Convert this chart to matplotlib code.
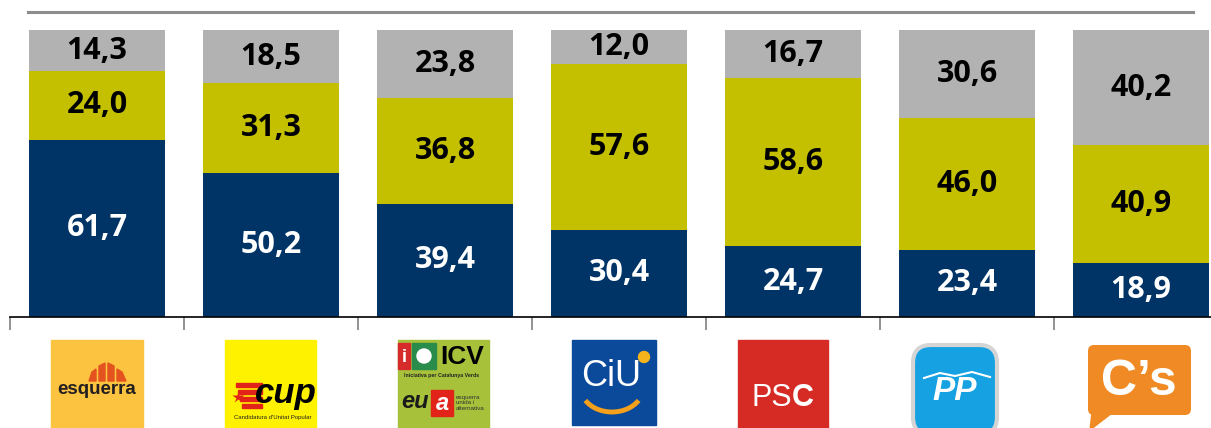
import numpy as np
import matplotlib
matplotlib.use("Agg")
import matplotlib.pyplot as plt
from matplotlib.patches import Rectangle, FancyBboxPatch, Polygon, Circle, Arc
from matplotlib.lines import Line2D

# data (percent of voters per party)
parties = ["ERC", "CUP", "ICV-EUiA", "CiU", "PSC", "PP", "C's"]
bottom_vals = [61.7, 50.2, 39.4, 30.4, 24.7, 23.4, 18.9]
middle_vals = [24.0, 31.3, 36.8, 57.6, 58.6, 46.0, 40.9]
top_vals = [14.3, 18.5, 23.8, 12.0, 16.7, 30.6, 40.2]

NAVY = "#003366"
OLIVE = "#c4c000"
GREY = "#b2b2b2"

W, H = 1211, 428
fig = plt.figure(figsize=(W / 100, H / 100), dpi=100)

# main axes: left edge at px 10, bar baseline at px 317, 100% at px 30
ax = fig.add_axes([10 / W, (H - 317) / H, 7 * 174 / W, 287 / H])
x = np.arange(len(parties))
bw = 0.78
b = np.array(bottom_vals)
m = np.array(middle_vals)
t = np.array(top_vals)
ax.bar(x, b, bw, color=NAVY)
ax.bar(x, m, bw, bottom=b, color=OLIVE)
ax.bar(x, t, bw, bottom=b + m, color=GREY)

lab = dict(fontsize=22, fontweight="bold", family="Open Sans", ha="center", va="center")
for i in range(len(parties)):
    ax.text(x[i], b[i] / 2, f"{b[i]:.1f}".replace(".", ","), color="white", **lab)
    ax.text(x[i], b[i] + m[i] / 2, f"{m[i]:.1f}".replace(".", ","), color="black", **lab)
    ax.text(x[i], b[i] + m[i] + t[i] / 2, f"{t[i]:.1f}".replace(".", ","), color="black", **lab)

ax.set_xlim(-0.5, len(parties) - 0.5)
ax.set_ylim(0, 100)
for s in ["top", "left", "right"]:
    ax.spines[s].set_visible(False)
ax.spines["bottom"].set_linewidth(1.2)
ax.set_yticks([])
ax.set_xticks(np.arange(-0.5, len(parties), 1))
ax.tick_params(axis="x", length=9, width=1.2, color="#7f7f7f", labelbottom=False)

# overlay in pixel coordinates for the header rule and party logos
lx = fig.add_axes([0, 0, 1, 1], zorder=-1)
lx.set_xlim(0, W)
lx.set_ylim(H, 0)
lx.axis("off")
lx.add_line(Line2D([28, 1193], [12, 12], color="#8c8c8c", lw=2.2))

bold = dict(fontweight="bold", family="Liberation Sans", ha="center", va="center")

# ERC
lx.add_patch(Rectangle((51, 340), 92, 90, color="#fbc33f"))
lx.add_patch(Polygon([[89, 381], [92, 372], [96, 369], [96, 381]], color="#e4531f"))
lx.add_patch(Polygon([[99, 381], [99, 366], [105, 363], [105, 381]], color="#e4531f"))
lx.add_patch(Polygon([[108, 381], [108, 363], [114, 366], [114, 381]], color="#e4531f"))
lx.add_patch(Polygon([[117, 381], [117, 369], [122, 372], [126, 381]], color="#e4531f"))
lx.text(97, 389, "esquerra", fontsize=13.5, color="#231f20", **bold)

# CUP
lx.add_patch(Rectangle((225, 340), 91, 90, color="#fff200"))
for k in range(4):
    lx.add_patch(Rectangle((236 + k * 2, 383 + k * 7), 26 - k * 2, 4, color="#e2231a"))
lx.plot(238, 397, marker="*", ms=9, color="#e2231a", mec="none")
lx.text(286, 393, "cup", fontsize=25, color="black", style="italic", **bold)
lx.text(273, 417, "Candidatura d'Unitat Popular", fontsize=4.3, color="#222",
        family="Liberation Sans", ha="center", va="center")

# ICV-EUiA
lx.add_patch(Rectangle((398, 340), 91, 90, color="#a7c13b"))
lx.add_patch(Rectangle((398, 343), 12, 26, color="#d52b2b"))
lx.text(404, 357, "i", fontsize=13, color="white", **bold)
lx.add_patch(Rectangle((412, 343), 24, 26, color="#2a8c4a"))
lx.add_patch(Circle((424, 356), 7, color="white"))
lx.text(462, 357, "ICV", fontsize=19, color="black", **bold)
lx.text(442, 375, "Iniciativa per Catalunya Verds", fontsize=3.8, color="#222", **bold)
lx.text(415, 402, "eu", fontsize=17, color="#1a1a1a", style="italic", **bold)
lx.add_patch(Rectangle((431, 390), 22, 26, color="#e2231a"))
lx.text(442, 403, "a", fontsize=17, color="white", style="italic", **bold)
lx.text(456, 403, "esquerra\nunida i\nalternativa", fontsize=4.5, color="#333",
        family="Liberation Sans", ha="left", va="center", linespacing=1.0)

# CiU
lx.add_patch(Rectangle((572, 340), 84, 85, color="#0b4a9b"))
lx.text(611, 377, "CiU", fontsize=26, color="white", family="Liberation Sans",
        ha="center", va="center")
lx.add_patch(Arc((612, 388), 62, 48, theta1=25, theta2=155, color="#f5a01a", lw=3.5))
lx.add_patch(Circle((644, 357), 5.5, color="#f6b31b"))

# PSC
lx.add_patch(Rectangle((738, 340), 90, 90, color="#d62a25"))
lx.text(772, 398, "PS", fontsize=22, color="white", family="Liberation Sans",
        ha="center", va="center")
lx.text(803, 398, "C", fontsize=22, color="white", **bold)

# PP
lx.add_patch(FancyBboxPatch((913, 345), 84, 90, boxstyle="round,pad=0,rounding_size=18",
                            fc="#15a1e2", ec="#d5d5d5", lw=3))
lx.plot([924, 940, 955, 972, 990], [378, 373, 376, 372, 377], color="white", lw=1.5)
lx.text(955, 392, "PP", fontsize=24, color="white", style="italic", **bold)

# C's
lx.add_patch(FancyBboxPatch((1088, 345), 103, 70, boxstyle="round,pad=0,rounding_size=6",
                            fc="#f08a24", ec="none"))
lx.add_patch(Polygon([[1092, 413], [1112, 413], [1090, 430]], color="#f08a24"))
lx.text(1139, 382, "C’s", fontsize=36, color="white", **bold)

fig.savefig("out.png", dpi=100)
